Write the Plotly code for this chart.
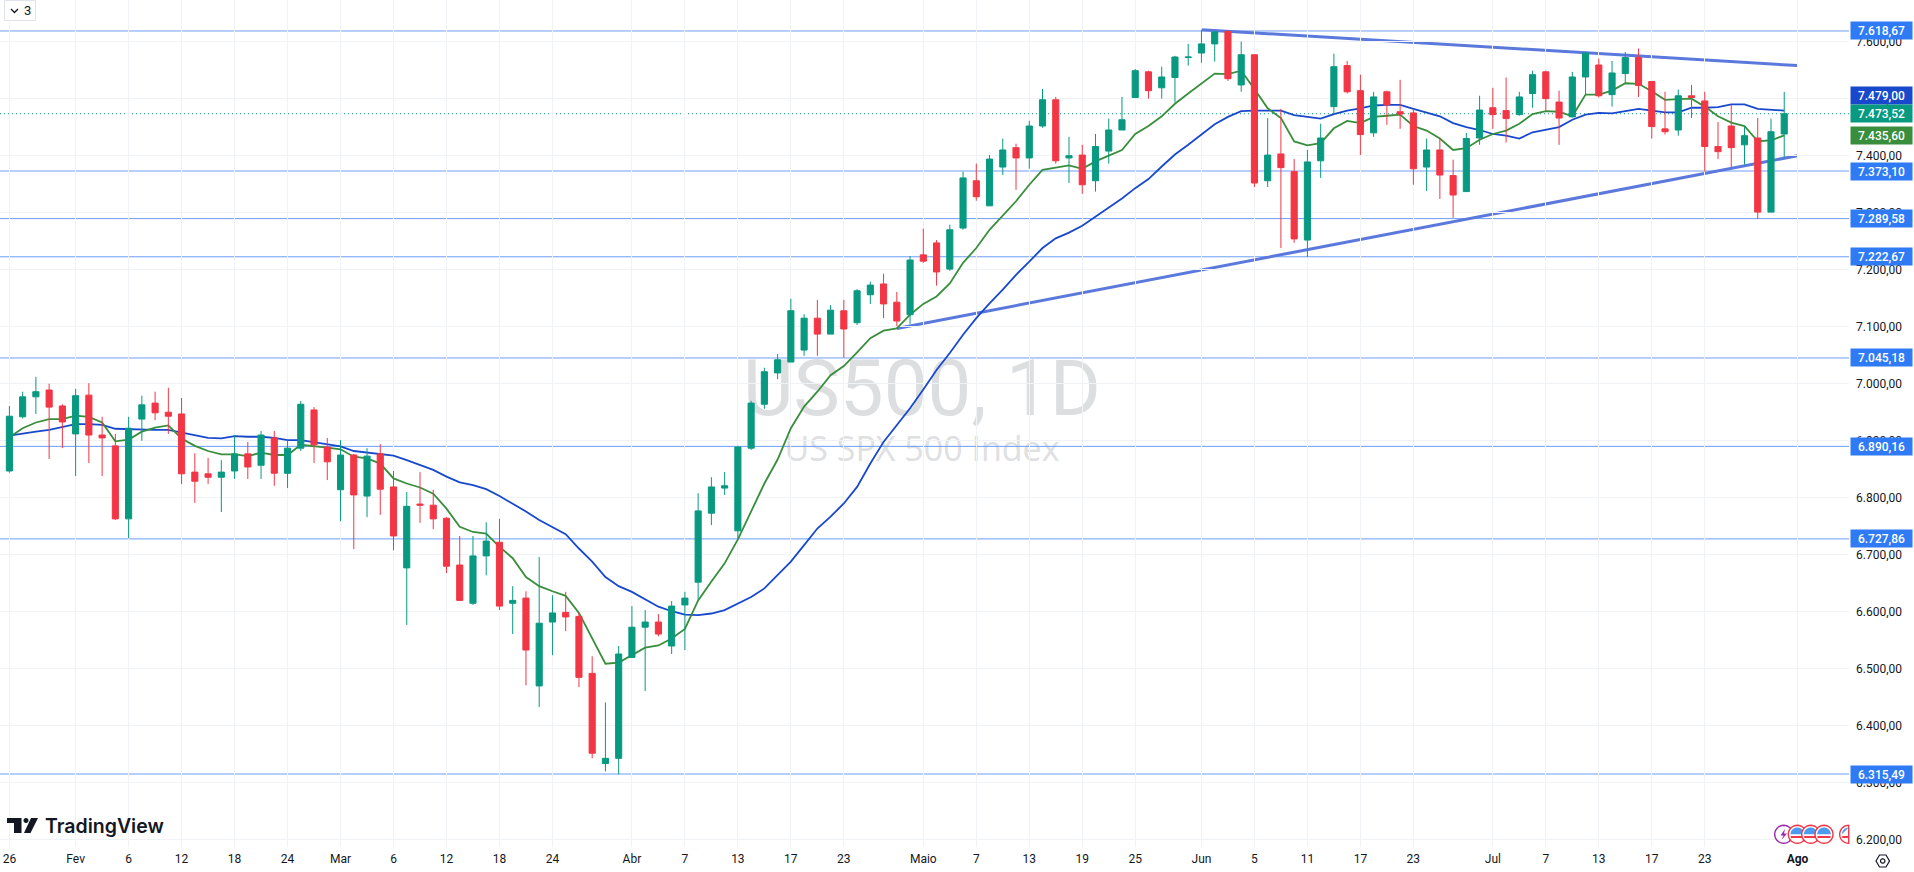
import math
import plotly.graph_objects as go

W, H = 1914, 872
PLOT_R, PLOT_B = 1849, 847

# candles, one per trading day, index 0 = 26 Jan
opens = [6847,6942,6977,6989,6961,6912,6980,6910,6891,6763,
         6938,6966,6950,6947,6845,6842,6836,6847,6877,6857,
         6905,6843,6887,6954,6889,6814,6875,6803,6877,6819,
         6677,6789,6787,6764,6682,6615,6698,6722,6615,6624,
         6470,6582,6599,6592,6492,6334,6343,6520,6573,6582,
         6540,6612,6652,6773,6817,6742,6887,6964,7019,7038,
         7059,7115,7087,7128,7107,7156,7175,7143,7121,7226,
         7247,7201,7273,7356,7312,7380,7414,7396,7452,7498,
         7396,7401,7356,7408,7445,7502,7547,7519,7537,7572,
         7580,7596,7618,7524,7577,7356,7403,7372,7252,7391,
         7486,7558,7514,7440,7512,7477,7475,7380,7410,7365,
         7337,7431,7484,7479,7472,7509,7547,7494,7468,7538,
         7559,7507,7544,7572,7530,7447,7445,7505,7496,7416,
         7452,7419,7431,7301,7438]
closes = [6943,6977,6986,6959,6933,6979,6910,6905,6763,6922,
          6963,6949,6943,6842,6829,6836,6845,6877,6854,6910,
          6843,6887,6964,6893,6863,6875,6805,6873,6815,6733,
          6785,6787,6763,6680,6620,6698,6724,6610,6620,6533,
          6580,6598,6591,6485,6352,6343,6526,6573,6582,6561,
          6610,6624,6777,6819,6821,6889,6966,7021,7042,7128,
          7115,7087,7129,7096,7163,7173,7140,7110,7217,7215,
          7196,7270,7361,7328,7394,7410,7396,7452,7498,7391,
          7400,7349,7416,7445,7463,7549,7514,7538,7573,7573,
          7596,7617,7535,7577,7352,7401,7379,7254,7389,7431,
          7556,7512,7437,7503,7489,7473,7377,7410,7366,7331,
          7430,7480,7472,7465,7503,7542,7500,7466,7538,7580,
          7505,7545,7572,7523,7451,7442,7505,7502,7416,7407,
          7414,7435,7301,7442,7473.52]
highs = [6961,6986,7012,7000,6964,6991,7001,6942,6912,6942,
         6979,6986,6993,6975,6878,6870,6866,6910,6898,6917,
         6917,6901,6970,6959,6905,6901,6877,6887,6894,6847,
         6810,6845,6814,6766,6733,6733,6757,6763,6645,6636,
         6696,6629,6635,6599,6522,6441,6540,6610,6603,6596,
         6619,6635,6808,6836,6845,6891,6970,7028,7052,7149,
         7122,7147,7138,7147,7166,7179,7193,7161,7224,7272,
         7252,7279,7372,7386,7401,7430,7421,7461,7517,7503,
         7433,7419,7438,7465,7503,7552,7549,7556,7575,7596,
         7621,7618,7618,7600,7577,7466,7482,7394,7410,7456,
         7579,7566,7542,7512,7514,7533,7482,7430,7430,7393,
         7440,7505,7519,7537,7512,7549,7549,7514,7547,7582,
         7570,7566,7582,7588,7531,7512,7516,7524,7512,7459,
         7489,7452,7466,7465,7512]
lows = [6844,6939,6947,6868,6887,6838,6861,6838,6761,6729,
        6900,6936,6912,6824,6791,6824,6775,6833,6833,6833,
        6821,6817,6882,6861,6831,6759,6710,6766,6770,6708,
        6577,6756,6745,6668,6620,6612,6664,6603,6561,6471,
        6433,6524,6566,6468,6343,6320,6315,6519,6461,6557,
        6526,6533,6620,6752,6805,6729,6884,6956,7008,7038,
        7049,7049,7087,7045,7103,7140,7115,7101,7105,7212,
        7172,7198,7270,7321,7312,7366,7340,7377,7449,7386,
        7352,7333,7337,7386,7445,7502,7500,7500,7493,7558,
        7563,7565,7531,7512,7345,7345,7238,7247,7222,7361,
        7473,7509,7401,7433,7454,7447,7349,7338,7324,7291,
        7337,7419,7447,7423,7470,7484,7479,7419,7468,7507,
        7502,7486,7526,7503,7430,7437,7435,7466,7372,7394,
        7380,7384,7289,7301,7396]

# moving averages
ma_green = [6906,6922,6932,6938,6938,6944,6942,6932,6899,6902,
            6916,6923,6927,6904,6891,6882,6876,6876,6873,6879,
            6875,6875,6893,6891,6888,6885,6872,6869,6860,6834,
            6825,6818,6807,6781,6749,6740,6737,6714,6694,6661,
            6645,6636,6628,6598,6553,6509,6511,6524,6537,6541,
            6553,6570,6620,6653,6685,6727,6775,6825,6867,6922,
            6960,6986,7015,7031,7055,7080,7093,7097,7121,7140,
            7153,7176,7212,7238,7270,7296,7320,7349,7375,7379,
            7383,7377,7390,7400,7410,7438,7452,7469,7491,7509,
            7527,7544,7543,7549,7517,7483,7466,7425,7418,7422,
            7448,7461,7457,7468,7470,7472,7452,7444,7430,7410,
            7413,7428,7438,7444,7456,7473,7478,7477,7469,7507,
            7507,7514,7527,7526,7513,7498,7499,7500,7486,7469,
            7458,7452,7425,7427,7435.6]
ma_blue = [6909,6913,6916,6919,6924,6929,6929,6928,6921,6920,
           6920,6919,6919,6914,6910,6905,6904,6908,6907,6907,
           6905,6901,6901,6897,6893,6890,6882,6879,6876,6874,
           6866,6857,6849,6837,6827,6822,6815,6803,6790,6776,
           6761,6749,6736,6711,6688,6661,6645,6635,6622,6609,
           6601,6595,6594,6597,6603,6615,6626,6641,6664,6688,
           6717,6746,6767,6790,6819,6860,6898,6928,6957,6990,
           7024,7054,7086,7115,7141,7165,7191,7214,7238,7255,
           7265,7277,7293,7308,7325,7343,7359,7381,7402,7419,
           7437,7455,7468,7478,7479,7479,7479,7471,7468,7465,
           7473,7479,7483,7488,7489,7489,7482,7476,7469,7457,
           7450,7445,7438,7435,7430,7441,7445,7450,7463,7472,
           7475,7474,7478,7482,7479,7476,7476,7484,7484,7485,
           7490,7490,7482,7480,7479]

# drawn levels and trend lines
levels = [7618.67, 7373.10, 7289.58, 7222.67, 7045.18, 6890.16, 6727.86, 6315.49]
level_labels = ["7.618,67", "7.373,10", "7.289,58", "7.222,67", "7.045,18", "6.890,16", "6.727,86", "6.315,49"]
upper_trend_x = [90, 135]
upper_trend_y = [7621, 7558]
lower_trend_x = [67, 135]
lower_trend_y = [7097, 7400]
last_close = 7473.52
ma_green_last = 7435.60
ma_blue_last = 7479.00

price_ticks = [6200, 6300, 6400, 6500, 6600, 6700, 6800, 6900, 7000, 7100, 7200, 7300, 7400, 7500, 7600]
price_labels = ["6.200,00", "6.300,00", "6.400,00", "6.500,00", "6.600,00", "6.700,00", "6.800,00", "6.900,00",
                "7.000,00", "7.100,00", "7.200,00", "7.300,00", "7.400,00", "7.500,00", "7.600,00"]
date_ticks = [0, 5, 9, 13, 17, 21, 25, 29, 33, 37, 41, 47, 51, 55, 59, 63, 69, 73, 77, 81, 85,
              90, 94, 98, 102, 106, 112, 116, 120, 124, 128, 135]
date_labels = ["26", "Fev", "6", "12", "18", "24", "Mar", "6", "12", "18", "24", "Abr", "7", "13", "17", "23",
               "Maio", "7", "13", "19", "25", "Jun", "5", "11", "17", "23", "Jul", "7", "13", "17", "23", "<b>Ago</b>"]

GREEN = "#089981"
RED = "#F23645"
MA_GREEN = "#388E3C"
MA_BLUE = "#1848CC"
LEVEL = "#6C9EF8"
LABEL_BLUE = "#2F7BF6"
TREND = "#5B78DC"
GRID = "#F0F3F5"
TEXT = "#131722"
FONT = "Roboto"


def px(x):
    # page pixel to paper, paper is the plot area here
    return x / PLOT_R


def py(y):
    return 1 - y / PLOT_B


def poly(points):
    # decorative shapes only, given in page pixels
    return "M " + " L ".join(f"{px(x):.5f},{py(y):.5f}" for x, y in points) + " Z"


def arc(cx, cy, r, a0=0, a1=360, n=32):
    return [(cx + r * math.cos(math.radians(a0 + (a1 - a0) * k / n)),
             cy + r * math.sin(math.radians(a0 + (a1 - a0) * k / n))) for k in range(n + 1)]


fig = go.Figure()

# the curves go on the lower axis so the candles sit on top of them
fig.add_trace(go.Scatter(x=list(range(len(ma_blue))), y=ma_blue, mode="lines",
                         line=dict(color=MA_BLUE, width=1.8), hoverinfo="skip", showlegend=False))
fig.add_trace(go.Scatter(x=list(range(len(ma_green))), y=ma_green, mode="lines",
                         line=dict(color=MA_GREEN, width=1.8), hoverinfo="skip", showlegend=False))
fig.add_trace(go.Candlestick(x=list(range(len(opens))), open=opens, high=highs, low=lows, close=closes,
                             yaxis="y2", whiskerwidth=0, showlegend=False,
                             increasing=dict(line=dict(color=GREEN, width=1), fillcolor=GREEN),
                             decreasing=dict(line=dict(color=RED, width=1), fillcolor=RED)))

shapes = []
# watermark as a shape label so it stays behind everything
shapes.append(dict(type="rect", layer="below", xref="paper", yref="paper",
                   x0=px(700), x1=px(1144), y0=py(420), y1=py(345), line=dict(width=0),
                   label=dict(text="US500, 1D", textposition="middle center",
                              font=dict(family="Roboto", size=78, color="#DCDEE0"))))
shapes.append(dict(type="rect", layer="below", xref="paper", yref="paper",
                   x0=px(700), x1=px(1144), y0=py(470), y1=py(430), line=dict(width=0),
                   label=dict(text="US SPX 500 Index", textposition="middle center",
                              font=dict(family="Open Sans", size=34, color="#DEE0E2"))))
for lv in levels:
    shapes.append(dict(type="line", layer="below", xref="paper", yref="y", x0=0, x1=1, y0=lv, y1=lv,
                       line=dict(color=LEVEL, width=1)))
shapes.append(dict(type="line", layer="below", xref="paper", yref="y", x0=0, x1=1, y0=last_close, y1=last_close,
                   line=dict(color=GREEN, width=1, dash="1px 3px")))
shapes.append(dict(type="line", layer="below", xref="x", yref="y", x0=upper_trend_x[0], x1=upper_trend_x[1],
                   y0=upper_trend_y[0], y1=upper_trend_y[1], line=dict(color=TREND, width=3)))
shapes.append(dict(type="line", layer="below", xref="x", yref="y", x0=lower_trend_x[0], x1=lower_trend_x[1],
                   y0=lower_trend_y[0], y1=lower_trend_y[1], line=dict(color=TREND, width=3)))

# legend toggle top left
shapes.append(dict(type="rect", xref="paper", yref="paper", x0=px(4.5), x1=px(35.5), y0=py(20.5), y1=py(0.5),
                   fillcolor="white", line=dict(color="#E0E3EB", width=1)))
shapes.append(dict(type="path", xref="paper", yref="paper",
                   path="M " + " L ".join(f"{px(x):.5f},{py(y):.5f}" for x, y in [(11, 9), (14.5, 12.5), (18, 9)]),
                   line=dict(color=TEXT, width=1.3)))

# TradingView mark
logo_black = "#131722"
for pts in ([(7, 818), (21.5, 818), (21.5, 833), (14, 833), (14, 823), (7, 823)],
            [(31, 818), (38, 818), (30.5, 833), (24, 833)]):
    shapes.append(dict(type="path", xref="paper", yref="paper", path=poly(pts),
                       fillcolor=logo_black, line=dict(width=0)))
shapes.append(dict(type="path", xref="paper", yref="paper", path=poly(arc(26, 820.5, 2.5)),
                   fillcolor=logo_black, line=dict(width=0)))

# event markers bottom right
shapes.append(dict(type="path", xref="paper", yref="paper", path=poly(arc(1783.7, 834.3, 9)),
                   fillcolor="white", line=dict(color="#9C27B0", width=1.4)))
shapes.append(dict(type="path", xref="paper", yref="paper",
                   path=poly([(1785, 829), (1780.5, 835.5), (1783.5, 835.5), (1781.5, 840), (1787, 833.5), (1784, 833.5)]),
                   fillcolor="#9C27B0", line=dict(width=0)))
for cx, a0, a1 in ((1797.3, 0, 360), (1810.7, 0, 360), (1824, 0, 360), (1848.7, 90, 270)):
    shapes.append(dict(type="path", xref="paper", yref="paper", path=poly(arc(cx, 834.3, 9, a0, a1)),
                       fillcolor="white", line=dict(color=RED, width=1.4)))
    shapes.append(dict(type="path", xref="paper", yref="paper", path=poly(arc(cx, 834.3, 6.8, max(a0, 180), a1 if a1 == 270 else 360)),
                       fillcolor="#4C9BF0", line=dict(width=0)))
    shapes.append(dict(type="path", xref="paper", yref="paper",
                       path=poly([(cx - 6.5, 836), (cx + (0 if a1 == 270 else 6.5), 836),
                                  (cx + (0 if a1 == 270 else 6.5), 838), (cx - 6.5, 838)]),
                       fillcolor=RED, line=dict(width=0)))

# settings hexagon
shapes.append(dict(type="path", xref="paper", yref="paper",
                   path=poly([(1876, 861), (1879.5, 855), (1886, 855), (1889.5, 861), (1886, 867), (1879.5, 867)]),
                   line=dict(color=TEXT, width=1.2)))
shapes.append(dict(type="path", xref="paper", yref="paper", path=poly(arc(1882.7, 861, 2.2)),
                   line=dict(color=TEXT, width=1.2)))

annotations = []


def price_label(price, text, color, shift=0):
    annotations.append(dict(xref="paper", yref="y", x=px(PLOT_R + 0.5), y=price, xanchor="left", yanchor="middle",
                            yshift=shift, text=text, showarrow=False, bgcolor=color, width=61, height=17, borderpad=0,
                            align="center", font=dict(family=FONT, size=12, color="white", weight=500)))


for lv, txt in zip(levels, level_labels):
    price_label(lv, txt, LABEL_BLUE)
# the three labels at the last bar are pushed apart, as the platform does
price_label(ma_blue_last, "7.479,00", MA_BLUE, shift=15)
price_label(last_close, "7.473,52", GREEN)
price_label(ma_green_last, "7.435,60", MA_GREEN)

annotations.append(dict(xref="paper", yref="paper", x=px(43), y=py(826), xanchor="left", yanchor="middle",
                        text="TradingView", showarrow=False,
                        font=dict(family="Inter", size=19.5, color=logo_black, weight=600)))
annotations.append(dict(xref="paper", yref="paper", x=px(27), y=py(10.5), xanchor="center", yanchor="middle",
                        text="3", showarrow=False, font=dict(family=FONT, size=13, color=TEXT)))

y_range = [6187.5, 7673]
fig.update_layout(
    width=W, height=H, autosize=False,
    margin=dict(l=0, r=W - PLOT_R, t=0, b=H - PLOT_B),
    paper_bgcolor="white", plot_bgcolor="white",
    boxgap=0.34,
    shapes=shapes, annotations=annotations,
    font=dict(family=FONT, size=12, color=TEXT),
    xaxis=dict(range=[-0.71, 138.89], rangeslider=dict(visible=False), tickmode="array",
               tickvals=date_ticks, ticktext=date_labels, showgrid=True, gridcolor=GRID, gridwidth=1,
               zeroline=False, showline=False, ticks="", ticklabelstandoff=3,
               tickfont=dict(family=FONT, size=12, color=TEXT)),
    yaxis=dict(range=y_range, side="right", tickmode="array", tickvals=price_ticks, ticktext=price_labels,
               showgrid=True, gridcolor=GRID, gridwidth=1, zeroline=False, showline=False, ticks="",
               ticklabelstandoff=6, tickfont=dict(family=FONT, size=12, color=TEXT)),
    yaxis2=dict(range=y_range, overlaying="y", side="right", showgrid=False, zeroline=False,
                showticklabels=False, ticks=""),
)

fig.write_html("out.html", config=dict(displayModeBar=False), post_script="document.body.style.margin='0';")
